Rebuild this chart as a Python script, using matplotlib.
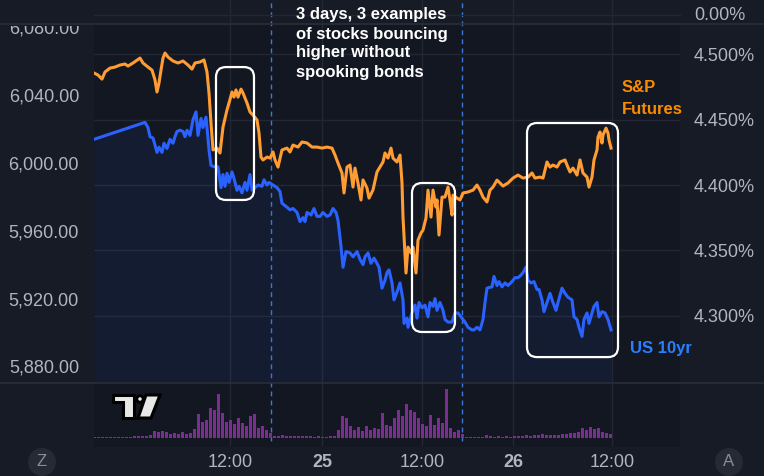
import matplotlib
matplotlib.use("Agg")
import matplotlib.pyplot as plt
from matplotlib import transforms
from matplotlib.patches import FancyBboxPatch, Rectangle, Polygon, Circle
from matplotlib.lines import Line2D
from matplotlib.transforms import Bbox, IdentityTransform

W, H = 764, 476
BG = "#171b26"
PANE = "#131722"
GRID = "#232733"
SEP = "#2a2e39"
TXT = "#b2b5be"
ORANGE = "#ff9c33"
BLUE = "#2962ff"
VOL = "#7a2f90"

plt.rcParams["font.family"] = ["Liberation Sans", "DejaVu Sans"]

# x = bar number counted from the session open (TradingView bar index)
sp_bars = [0, 4, 8, 11, 16, 21, 26, 31, 34, 39, 46, 49, 54, 58, 61, 63, 65, 67, 69, 71,
           74, 79, 84, 89, 94, 98, 101, 106, 110, 113, 115, 117, 119, 123, 126, 129, 133,
           135, 138, 140, 142, 144, 147, 149, 153, 156, 159, 163, 165, 167, 169, 173, 176,
           179, 181, 184, 188, 193, 196, 199, 204, 208, 213, 218, 223, 228, 233, 238, 241,
           244, 248, 250, 253, 256, 259, 261, 264, 267, 269, 273, 275, 279, 283, 286, 289,
           291, 294, 297, 299, 303, 306, 308, 309, 312, 314, 317, 319, 322, 324, 327, 329,
           332, 334, 337, 339, 342, 343, 345, 348, 351, 354, 356, 358, 359, 363, 366, 369,
           374, 379, 383, 386, 389, 393, 396, 399, 403, 406, 409, 414, 419, 424, 429, 434,
           438, 441, 446, 449, 453, 456, 459, 463, 466, 471, 473, 476, 479, 483, 486, 489,
           493, 495, 498, 500, 503, 504, 506, 508, 509, 512, 514, 515, 517]
sp_price = [6054.3, 6053.1, 6050.7, 6054.9, 6057.2, 6057.8, 6059.0, 6059.6, 6058.4, 6060.2,
            6063.1, 6060.2, 6057.8, 6056.0, 6050.2, 6043.1, 6048.4, 6056.0, 6063.1, 6066.1,
            6063.7, 6061.4, 6060.2, 6061.4, 6059.0, 6056.6, 6060.2, 6060.8, 6062.0, 6054.9,
            6042.5, 6024.8, 6008.9, 6010.0, 6007.1, 6022.4, 6032.5, 6036.6, 6043.1, 6040.1,
            6044.3, 6040.1, 6044.8, 6042.5, 6036.6, 6031.3, 6029.5, 6026.6, 6018.9, 6004.7,
            6003.0, 6004.7, 6004.1, 6007.7, 6003.0, 5998.8, 6008.9, 6010.0, 6007.7, 6011.8,
            6010.6, 6013.6, 6013.0, 6010.6, 6010.6, 6010.0, 6010.6, 6010.0, 6005.9, 6001.2,
            5995.3, 5983.5, 5998.8, 6000.0, 5987.0, 5998.2, 5989.4, 5979.4, 5991.2, 5986.4,
            5980.5, 5985.3, 5995.9, 5998.8, 6001.8, 6007.1, 6004.1, 6010.0, 6004.1, 6001.8,
            6005.9, 5989.4, 5969.3, 5936.3, 5951.6, 5948.1, 5951.6, 5936.3, 5955.7, 5959.9,
            5961.6, 5968.7, 5985.2, 5969.3, 5985.2, 5975.2, 5979.4, 5958.7, 5981.1, 5981.1,
            5987.0, 5979.4, 5970.5, 5982.3, 5980.5, 5979.4, 5983.5, 5984.1, 5985.2, 5988.2,
            5985.2, 5981.1, 5978.2, 5985.2, 5987.0, 5991.1, 5989.4, 5987.6, 5989.4, 5992.3,
            5994.1, 5992.3, 5992.9, 5995.3, 5992.3, 5992.9, 5992.3, 6001.8, 5998.8, 6000.0,
            5998.8, 6001.8, 6003.0, 6000.0, 5995.9, 5998.2, 5994.1, 6003.0, 5995.3, 5992.9,
            5987.0, 5992.9, 6003.0, 6008.9, 6016.5, 6019.5, 6013.0, 6017.7, 6021.8, 6018.9,
            6014.8, 6010.0]

ty_bars = [0, 51, 54, 56, 59, 63, 65, 68, 70, 73, 76, 79, 81, 83, 86, 89, 91, 93, 96, 99,
           102, 104, 107, 109, 112, 113, 115, 117, 120, 124, 127, 129, 131, 133, 135, 138,
           140, 143, 145, 148, 151, 153, 156, 158, 161, 164, 168, 170, 173, 175, 179, 183,
           186, 188, 193, 196, 199, 203, 206, 209, 211, 213, 217, 220, 223, 226, 229, 233,
           236, 239, 242, 244, 247, 249, 252, 256, 259, 263, 266, 269, 271, 274, 277, 280,
           283, 285, 288, 291, 293, 295, 298, 300, 303, 306, 309, 310, 313, 314, 318, 321,
           323, 325, 328, 331, 334, 336, 339, 341, 343, 346, 349, 351, 354, 358, 361, 364,
           368, 371, 374, 378, 380, 383, 386, 389, 391, 393, 398, 400, 403, 405, 408, 411,
           414, 418, 421, 424, 427, 429, 432, 434, 437, 440, 443, 445, 448, 450, 453, 456,
           459, 462, 464, 468, 471, 474, 478, 480, 483, 485, 488, 490, 493, 495, 498, 500,
           503, 505, 508, 511, 514, 517]
ty_yield = [4.435, 4.448, 4.444, 4.437, 4.436, 4.425, 4.429, 4.425, 4.432, 4.428, 4.435,
            4.432, 4.437, 4.441, 4.442, 4.441, 4.437, 4.442, 4.438, 4.450, 4.456, 4.438,
            4.451, 4.444, 4.452, 4.444, 4.427, 4.415, 4.414, 4.414, 4.398, 4.408, 4.399,
            4.409, 4.402, 4.410, 4.405, 4.396, 4.399, 4.394, 4.402, 4.396, 4.408, 4.396,
            4.398, 4.400, 4.399, 4.404, 4.400, 4.402, 4.400, 4.398, 4.395, 4.386, 4.383,
            4.381, 4.382, 4.379, 4.372, 4.375, 4.372, 4.379, 4.377, 4.382, 4.376, 4.376,
            4.379, 4.376, 4.377, 4.382, 4.379, 4.373, 4.353, 4.337, 4.349, 4.348, 4.345,
            4.349, 4.343, 4.339, 4.345, 4.348, 4.340, 4.344, 4.340, 4.337, 4.321, 4.327,
            4.333, 4.335, 4.325, 4.312, 4.318, 4.325, 4.312, 4.294, 4.298, 4.291, 4.302,
            4.308, 4.298, 4.310, 4.306, 4.308, 4.299, 4.310, 4.307, 4.313, 4.304, 4.310,
            4.304, 4.297, 4.295, 4.295, 4.302, 4.302, 4.298, 4.295, 4.291, 4.289, 4.289,
            4.291, 4.289, 4.297, 4.310, 4.321, 4.322, 4.330, 4.323, 4.326, 4.322, 4.325,
            4.323, 4.326, 4.329, 4.329, 4.331, 4.333, 4.337, 4.327, 4.325, 4.326, 4.320,
            4.320, 4.312, 4.303, 4.310, 4.317, 4.310, 4.304, 4.310, 4.321, 4.317, 4.314,
            4.312, 4.299, 4.297, 4.291, 4.284, 4.297, 4.302, 4.294, 4.302, 4.307, 4.310,
            4.299, 4.303, 4.302, 4.297, 4.289]

vol_bars = list(range(0, 520, 4))
volume = [1.5, 1.5, 1, 1.5, 1, 1.5, 1, 1.5, 1.5, 1.5,
          2, 2, 2, 2.5, 3, 7, 6, 7, 6, 4,
          5, 4, 6, 4, 5, 9, 24, 16, 18, 30,
          28, 44, 25, 16, 18, 14, 20, 15, 12, 22,
          24, 10, 12, 8, 5, 2, 2, 3, 2, 2,
          2.5, 2, 2, 2, 2, 1.5, 2, 1.5, 1.5, 2,
          2, 8, 22, 20, 12, 8, 11, 7, 12, 8,
          10, 9, 25, 13, 12, 20, 28, 22, 34, 28,
          26, 20, 14, 12, 23, 13, 20, 15, 49, 10,
          6, 8, 4, 1.5, 1, 1.5, 1, 1.5, 3, 2,
          1.5, 2, 1.5, 2, 1.5, 2, 2.5, 2, 3, 2.5,
          3, 3, 4, 3, 3.5, 3, 3.5, 4, 4, 5,
          5, 6, 10, 8, 11, 9, 10, 6, 5, 4]

price_ticks = [5880, 5920, 5960, 6000, 6040, 6080]
yield_ticks = [4.30, 4.35, 4.40, 4.45, 4.50]
time_ticks = [136, 228, 328, 419, 518]
time_labels = ["12:00", "25", "12:00", "26", "12:00"]
day_breaks = [177, 368]

# highlighted rebounds: (first bar, last bar, low price, high price)
boxes = [(122, 160, 5979.4, 6057.8),
         (318, 361, 5901.5, 5989.4),
         (433, 524, 5886.7, 6024.8)]

note = ["3 days, 3 examples", "of stocks bouncing", "higher without", "spooking bonds"]


def frac(x0, y0, x1, y1):
    """pixel box (top-left origin) -> figure fraction rect"""
    return [x0 / W, 1 - y1 / H, (x1 - x0) / W, (y1 - y0) / H]


PIX = IdentityTransform()

fig = plt.figure(figsize=(W / 100, H / 100), dpi=100, facecolor=BG)
fig.add_artist(Rectangle((94 / W, 1 - 447 / H), 586 / W, 424 / H,
                         transform=fig.transFigure, facecolor=PANE,
                         edgecolor="none", zorder=-1))

ax = fig.add_axes(frac(94, 23, 680, 382))
ax.patch.set_visible(False)
ax.set_xlim(0, 586)
ax.set_ylim(5872.0, 6083.8)
ax.set_xticks([])
ax.set_yticks([])
ax2 = ax.twinx()
ax2.set_ylim(4.2491, 4.5241)
for a in (ax, ax2):
    for s in a.spines.values():
        s.set_visible(False)

ax2.set_yticks(yield_ticks, [f"{v:.3f}%" for v in yield_ticks])
ax2.tick_params(axis="y", length=0, pad=10, labelcolor=TXT, labelsize=13)

# grid
hgrid = transforms.blended_transform_factory(ax.transAxes, ax2.transData)
for v in yield_ticks:
    ax.plot([0, 1], [v, v], transform=hgrid, color=GRID, lw=1, zorder=0.5)
vspan = transforms.blended_transform_factory(ax.transData, fig.transFigure)
for b in time_ticks:
    ax.plot([b, b], [1 - 445 / H, 1], transform=vspan, color=GRID, lw=1,
            zorder=0.5, clip_on=False)
for b in day_breaks:
    ax.plot([b, b], [1 - 441 / H, 1], transform=vspan, color="#3b78d8", lw=1,
            dashes=(3.5, 3), zorder=0.6, clip_on=False)

ax.plot(sp_bars, sp_price, color=ORANGE, lw=2.2, solid_joinstyle="round", zorder=2)
ax2.fill_between(ty_bars, ty_yield, 4.2491, color=BLUE, alpha=0.07, lw=0, zorder=1)
ax2.plot(ty_bars, ty_yield, color=BLUE, lw=2.2, solid_joinstyle="round", zorder=2)

# left price labels, clipped by the top strip like the original
lab_tr = transforms.blended_transform_factory(PIX, ax.transData)
for v in price_ticks:
    t = fig.text(79, v, f"{v:,.2f}", transform=lab_tr, ha="right", va="center",
                 color=TXT, fontsize=13)
    t.set_clip_on(True)
    t.set_clip_box(Bbox.from_extents(0, 0, W, H - 25.5))

# volume pane
axv = fig.add_axes(frac(94, 382, 680, 447))
axv.patch.set_visible(False)
axv.set_xlim(0, 586)
axv.set_ylim(-9, 56)
axv.bar(vol_bars, volume, width=3.0, color=VOL, linewidth=0)
for s in axv.spines.values():
    s.set_visible(False)
axv.set_yticks([])
axv.set_xticks(time_ticks, time_labels)
axv.tick_params(axis="x", length=0, pad=5, labelcolor=TXT, labelsize=13)
for lbl, txt in zip(axv.get_xticklabels(), time_labels):
    if ":" not in txt:
        lbl.set_fontweight("bold")

# pane separators and top strip
fig.add_artist(Line2D([0, W], [H - 23.5, H - 23.5], transform=PIX, color=SEP, lw=1.2, zorder=3))
fig.add_artist(Line2D([0, W], [H - 382.5, H - 382.5], transform=PIX, color=SEP, lw=1.2, zorder=3))
fig.add_artist(Line2D([94, 680], [H - 15, H - 15], transform=PIX, color=GRID, lw=1, zorder=1))
fig.text(694, H - 15, "0.00%", transform=PIX, va="center", color=TXT, fontsize=13)

# rounded highlight boxes
for b0, b1, lo, hi in boxes:
    x0, y0 = ax.transData.transform((b0, lo))
    x1, y1 = ax.transData.transform((b1, hi))
    fig.add_artist(FancyBboxPatch((x0, y0), x1 - x0, y1 - y0,
                                  boxstyle="round,pad=0,rounding_size=10",
                                  transform=PIX, fill=False, edgecolor="white",
                                  lw=1.6, zorder=4))

# annotations
for i, s in enumerate(note):
    fig.text(296, H - 15 - 19 * i, s, transform=PIX, va="center", color="white",
             fontsize=12, fontweight="bold", zorder=5)
fig.text(622, H - 88, "S&P", transform=PIX, va="center", color="#fb8c00",
         fontsize=12, fontweight="bold")
fig.text(622, H - 109, "Futures", transform=PIX, va="center", color="#fb8c00",
         fontsize=12, fontweight="bold")
fig.text(630, H - 349, "US 10yr", transform=PIX, va="center", color="#2a7fff",
         fontsize=12, fontweight="bold")

# TradingView logo
logo = dict(transform=PIX, facecolor="#e8e8e8", edgecolor="black", lw=2.2,
            joinstyle="miter", zorder=5)
fig.add_artist(Polygon([(113, H - 395), (134, H - 395), (134, H - 418), (123, H - 418),
                        (123, H - 402), (113, H - 402)], **logo))
fig.add_artist(Circle((140, H - 399), 3.3, **logo))
fig.add_artist(Polygon([(146, H - 395), (160, H - 395), (151, H - 418), (138, H - 418)], **logo))

# Z / A buttons
for cx, ch in ((42, "Z"), (729, "A")):
    fig.add_artist(Circle((cx, H - 462), 14, transform=PIX, facecolor="#262a35",
                          edgecolor="none", zorder=5))
    fig.text(cx, H - 462, ch, transform=PIX, ha="center", va="center",
             color="#8a8d96", fontsize=12, zorder=6)

fig.savefig("out.png", dpi=100, facecolor=BG)
